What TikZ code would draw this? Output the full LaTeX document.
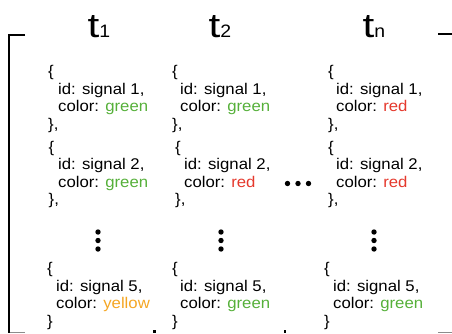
\documentclass[tikz,border=0pt]{standalone}
\usepackage{fontspec}
\setmainfont{Liberation Sans}[FakeStretch=1.08]
\usepackage{graphicx}
\definecolor{sgreen}{RGB}{86,176,58}
\definecolor{sred}{RGB}{229,57,45}
\definecolor{syellow}{RGB}{245,166,35}
\newcommand{\sigblock}[8]{%
  \node[ln] (#1o) at (#2,#4) {\{};
  \node[ln] (#1i) at (#3,#4+17.5) {id: signal #5,};
  \node[ln] (#1c) at (#3,#4+35) {color: \textcolor{#6}{#7}};
  \node[ln] (#1e) at (#2,#4+52.5) {#8};
}
\newcommand{\hdrt}[1]{\scalebox{1.15}[1]{\fontsize{34}{34}\selectfont t}\fontsize{18}{18}\selectfont #1}
\begin{document}
\begin{tikzpicture}[x=1pt,y=-1pt,
  ln/.style={anchor=base west,inner sep=0pt,font=\fontsize{15.5}{17}\selectfont},
  hdr/.style={anchor=base west,inner sep=0pt},
  dot/.style={circle,fill=black,inner sep=0pt,minimum size=5.4pt},
  brk/.style={line width=2pt,black},
  brkfaint/.style={line width=1pt,black!45}]
\useasboundingbox (0,0) rectangle (452,333);
% headers
\node[hdr] (h1) at (87.5,37.5) {\hdrt{1}};
\node[hdr] (h2) at (208.5,37.5) {\hdrt{2}};
\node[hdr] (hn) at (362.5,37.5) {\hdrt{n}};
% bracket
\coordinate (ltr) at (25,35);
\coordinate (lb) at (9,333);
\draw[brk] (ltr) -- (9,35) -- (lb);
\coordinate (rt1) at (438,34.3);
\coordinate (rt2) at (452,34.3);
\draw[brk] (rt1) -- (rt2);
\coordinate (lb1) at (10,332.5);
\coordinate (lb2) at (25,332.5);
\draw[brkfaint] (lb1) -- (lb2);
\coordinate (rb1) at (438,332.5);
\coordinate (rb2) at (452,332.5);
\draw[brkfaint] (rb1) -- (rb2);
% column 1
\sigblock{a1}{48}{58}{76.5}{1}{sgreen}{green}{\},}
\sigblock{a2}{48.5}{58}{152}{2}{sgreen}{green}{\},}
\sigblock{a5}{47}{56}{273.5}{5}{syellow}{yellow}{\}}
% column 2
\sigblock{b1}{172}{180}{76.5}{1}{sgreen}{green}{\},}
\sigblock{b2}{175}{184}{152}{2}{sred}{red}{\},}
\sigblock{b5}{172}{180}{273.5}{5}{sgreen}{green}{\}}
% column 3
\sigblock{c1}{328}{336}{76.5}{1}{sred}{red}{\},}
\sigblock{c2}{328}{336}{152}{2}{sred}{red}{\},}
\sigblock{c5}{324}{333}{273.5}{5}{sgreen}{green}{\}}
% vertical dots
\foreach \cx/\nm in {98/a,221/b,374/c}{
  \node[dot] (\nm v1) at (\cx,232) {};
  \node[dot] (\nm v2) at (\cx,240.5) {};
  \node[dot] (\nm v3) at (\cx,249) {};
}
% horizontal dots
\node[dot] (hd1) at (287.5,183.5) {};
\node[dot] (hd2) at (298,183.5) {};
\node[dot] (hd3) at (308.5,183.5) {};
% cropped marks at bottom
\fill (153,330) rectangle (155.5,333);
\fill (283.5,330) rectangle (286,333);
\end{tikzpicture}
\end{document}
